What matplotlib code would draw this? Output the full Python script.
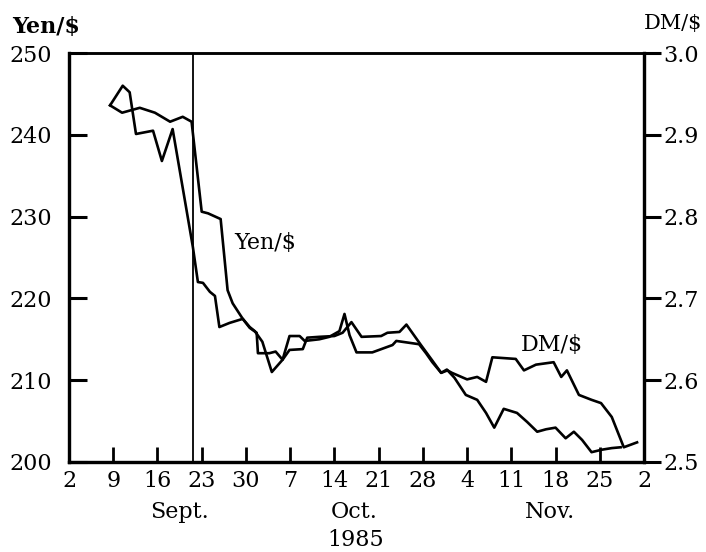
import matplotlib.pyplot as plt

plt.rcParams['font.family'] = 'DejaVu Serif'
plt.rcParams['font.size'] = 16

# days counted from Sept. 2, 1985
yen_day = [6.5, 8.4, 11.2, 13.6, 16.0, 18.0, 19.4, 21.0, 22.0, 24.0, 25.1, 25.9, 27.5,
           28.6, 29.7, 29.9, 31.7, 32.7, 33.8, 34.9, 37.0, 37.7, 39.6, 42.0, 43.3, 44.7,
           46.3, 49.4, 50.4, 52.3, 53.4, 55.7, 57.5, 58.9, 59.8, 61.0, 62.8, 64.6, 66.0,
           67.3, 68.8, 70.9, 72.5, 74.1, 75.5, 77.0, 78.6, 79.9, 81.2, 82.7, 84.3, 85.9, 87.3]
yen_rate = [243.6, 242.7, 243.3, 242.7, 241.6, 242.2, 241.6, 230.6, 230.4, 229.7, 221.0,
            219.4, 217.5, 216.4, 215.8, 213.3, 213.3, 213.5, 212.5, 213.7, 213.8, 215.2,
            215.3, 215.4, 215.8, 217.1, 215.3, 215.4, 215.8, 215.9, 216.8, 214.3, 212.4,
            210.9, 211.3, 210.3, 208.2, 207.6, 206.0, 204.2, 206.5, 206.0, 204.9, 203.7,
            204.0, 204.2, 202.9, 203.7, 202.7, 201.2, 201.5, 201.7, 201.8]

dm_day = [6.5, 8.5, 9.6, 10.6, 13.3, 14.7, 16.4, 19.6, 20.4, 21.2, 22.3, 23.1, 23.8, 25.4,
          27.5, 28.6, 29.4, 30.6, 32.1, 33.8, 34.9, 36.5, 37.3, 39.6, 41.2, 42.8, 43.6,
          44.4, 45.5, 48.0, 51.2, 51.8, 55.4, 56.5, 57.5, 58.9, 59.9, 60.6, 63.0, 64.6,
          66.0, 67.0, 70.7, 72.0, 73.9, 76.7, 77.9, 78.8, 80.7, 82.7, 84.2, 85.9, 87.8, 89.9]
dm_rate = [2.936, 2.960, 2.952, 2.901, 2.905, 2.868, 2.907, 2.763, 2.720, 2.719, 2.708,
           2.703, 2.665, 2.670, 2.675, 2.665, 2.660, 2.647, 2.610, 2.625, 2.654, 2.654,
           2.648, 2.650, 2.653, 2.660, 2.681, 2.655, 2.634, 2.634, 2.643, 2.648, 2.644,
           2.633, 2.622, 2.609, 2.612, 2.609, 2.601, 2.604, 2.598, 2.628, 2.626, 2.612,
           2.619, 2.622, 2.604, 2.612, 2.582, 2.576, 2.572, 2.555, 2.518, 2.524]

plaza_day = 19.6
tick_days = [0, 7, 14, 21, 28, 35, 42, 49, 56, 63, 70, 77, 84, 91]
tick_labels = ["2", "9", "16", "23", "30", "7", "14", "21", "28", "4", "11", "18", "25", "2"]
months = ["Sept.", "Oct.", "Nov."]
month_pos = [17.5, 45.2, 76.1]

fig = plt.figure(figsize=(7.06, 5.52), dpi=100)
ax = fig.add_axes([69 / 706, 1 - 462 / 552, 575 / 706, 409 / 552])
ax2 = ax.twinx()

ax.plot(yen_day, yen_rate, color='black', lw=1.9)
ax2.plot(dm_day, dm_rate, color='black', lw=1.9)
ax.axvline(plaza_day, color='black', lw=1.3)

ax.set_xlim(0, 91)
ax.set_ylim(200, 250)
ax2.set_ylim(2.5, 3.0)

ax.set_xticks(tick_days)
ax.set_xticklabels(tick_labels)
ax.set_yticks([200, 210, 220, 230, 240, 250])
ax2.set_yticks([2.5, 2.6, 2.7, 2.8, 2.9, 3.0])
ax2.set_yticklabels(["2.5", "2.6", "2.7", "2.8", "2.9", "3.0"])

ax.tick_params(axis='x', direction='in', length=11, width=2, pad=6, labelsize=16)
ax.tick_params(axis='y', direction='in', length=13, width=2.2, pad=12, labelsize=16)
ax2.tick_params(axis='y', direction='out', length=12, width=2.2, pad=2, labelsize=16)

for a in (ax, ax2):
    for side in ('left', 'right', 'bottom'):
        a.spines[side].set_linewidth(2.3)
    a.spines['top'].set_linewidth(1.8)

# line labels
ax.text(26.2, 226.8, "Yen/$", va='center', ha='left')
ax.text(71.5, 214.3, "DM/$", va='center', ha='left')

# axis titles
fig.text(12 / 706, 1 - 27 / 552, "Yen/$", ha='left', va='center', fontweight='bold')
fig.text(702 / 706, 1 - 23 / 552, "DM/$", ha='right', va='center', fontsize=15)

for m, pos in zip(months, month_pos):
    ax.annotate(m, (pos, -0.122), xycoords=('data', 'axes fraction'), ha='center', va='center')
ax.annotate("1985", (45.3, -0.19), xycoords=('data', 'axes fraction'), ha='center', va='center')

fig.savefig("out.png", dpi=100)
